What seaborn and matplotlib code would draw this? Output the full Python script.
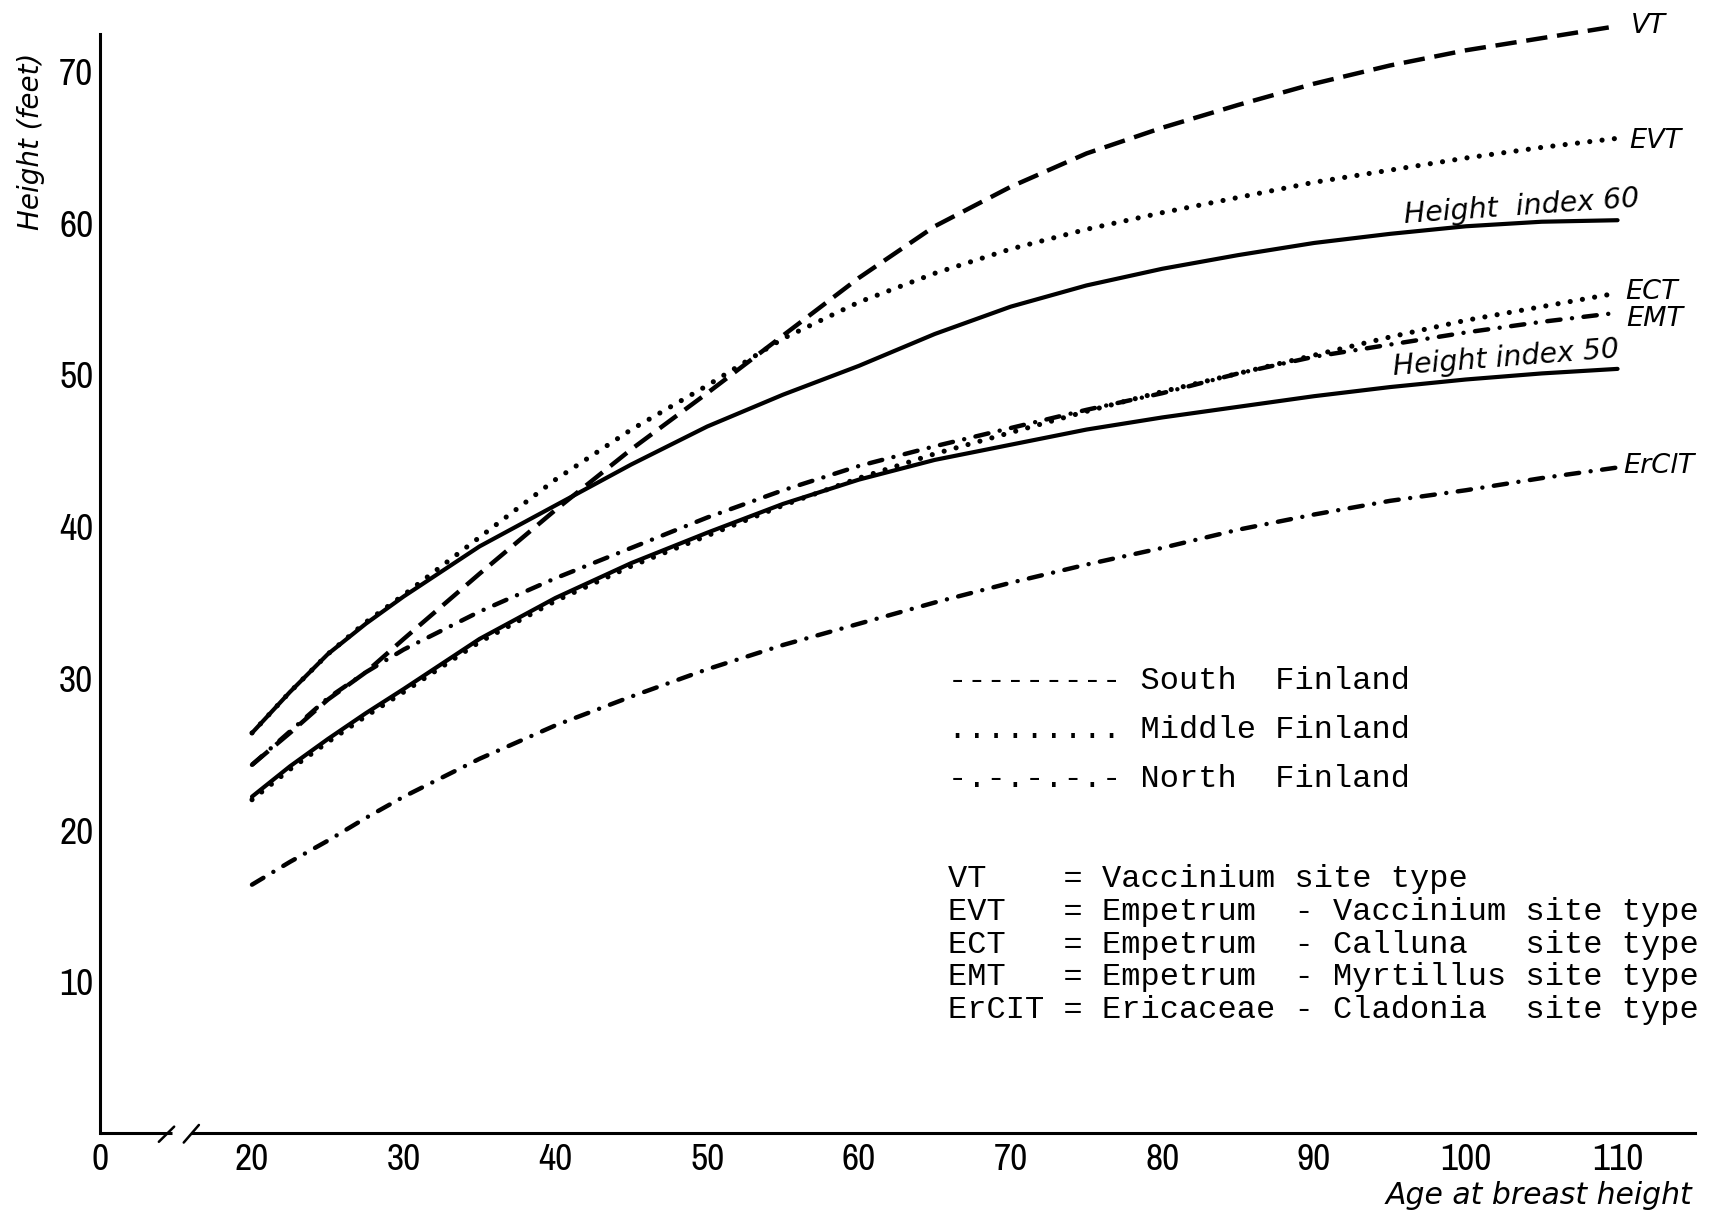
import matplotlib
matplotlib.use("Agg")
import matplotlib.pyplot as plt
from matplotlib import font_manager as fm
import seaborn as sns
import pandas as pd

# ---------------- data ----------------
ages = [20, 22.5, 25, 27.5, 30, 35, 40, 45, 50, 55, 60, 65, 70, 75, 80, 85, 90, 95, 100, 105, 110]
vt    = [24.3, 26.4, 28.6, 30.4, 32.6, 36.9, 41.1, 45.1, 48.8, 52.6, 56.4, 59.8, 62.4, 64.6, 66.3, 67.8, 69.2, 70.4, 71.4, 72.2, 73.0]
evt   = [26.4, 29.1, 31.6, 33.7, 35.5, 39.3, 43.1, 46.4, 49.3, 52.4, 54.8, 56.7, 58.3, 59.6, 60.7, 61.7, 62.7, 63.5, 64.3, 65.0, 65.6]
hi60  = [26.4, 29.1, 31.6, 33.6, 35.4, 38.7, 41.4, 44.1, 46.6, 48.7, 50.6, 52.7, 54.5, 55.9, 57.0, 57.9, 58.7, 59.3, 59.8, 60.1, 60.2]
ect   = [22.0, 24.0, 25.8, 27.5, 29.1, 32.4, 35.1, 37.4, 39.4, 41.4, 43.2, 44.8, 46.2, 47.6, 48.9, 50.1, 51.3, 52.5, 53.6, 54.5, 55.4]
emt   = [24.3, 26.5, 28.7, 30.4, 31.9, 34.4, 36.6, 38.6, 40.6, 42.4, 44.0, 45.3, 46.5, 47.7, 48.8, 50.1, 51.2, 52.0, 52.8, 53.5, 54.1]
hi50  = [22.2, 24.2, 26.0, 27.7, 29.3, 32.6, 35.3, 37.6, 39.6, 41.5, 43.1, 44.4, 45.4, 46.4, 47.2, 47.9, 48.6, 49.2, 49.7, 50.1, 50.4]
ercit = [16.4, 17.9, 19.3, 20.8, 22.2, 24.7, 26.9, 28.8, 30.6, 32.2, 33.6, 35.0, 36.3, 37.5, 38.6, 39.8, 40.8, 41.7, 42.4, 43.2, 43.9]

x_ticks = [10, 20, 30, 40, 50, 60, 70, 80, 90, 100, 110]
x_tick_labels = ["0", "20", "30", "40", "50", "60", "70", "80", "90", "100", "110"]
y_ticks = [10, 20, 30, 40, 50, 60, 70]

legend_lines = ["--------- South  Finland",
                "......... Middle Finland",
                "-.-.-.-.- North  Finland"]
site_lines = ["VT    = Vaccinium site type",
              "EVT   = Empetrum  - Vaccinium site type",
              "ECT   = Empetrum  - Calluna   site type",
              "EMT   = Empetrum  - Myrtillus site type",
              "ErCIT = Ericaceae - Cladonia  site type"]

# ---------------- styling ----------------
sns.set_style("white")
plt.rcParams["font.family"] = ["DejaVu Sans"]
for key in ["text.color", "axes.labelcolor", "xtick.color", "ytick.color", "axes.edgecolor"]:
    plt.rcParams[key] = "black"

# look for a narrow/condensed sans font for tick labels
tick_fp = None
cands = []
for f in fm.fontManager.ttflist:
    fn = f.fname.lower()
    if any(w in fn for w in ["bold", "italic", "oblique", "mono", "serif"]):
        continue
    if "narrow" in fn:
        cands.append((0, f.fname))
    elif "condensed" in fn and "sans" in fn:
        cands.append((1, f.fname))
cands.sort()
if cands:
    rank, path = cands[0]
    size = 27 if rank == 0 else 25
    tick_fp = fm.FontProperties(fname=path, size=size)
else:
    tick_fp = fm.FontProperties(family="DejaVu Sans", size=23)

LW = 3.0
dash_style = (0, (4.8, 2.2))
dot_style = (0, (0.01, 2.4))
dashdot_style = (0, (3.0, 2.6, 0.01, 2.6))

fig = plt.figure(figsize=(17.17, 12.12), dpi=100)
ax = fig.add_axes([0.0584, 0.0648, 0.9367, 0.9325])

df = pd.DataFrame({"age": ages, "VT": vt, "EVT": evt, "HI60": hi60,
                   "ECT": ect, "EMT": emt, "HI50": hi50, "ErCIT": ercit})

series_styles = [
    ("HI60", "-", LW, "butt"),
    ("HI50", "-", LW, "butt"),
    ("VT", dash_style, 3.2, "butt"),
    ("EVT", dot_style, 3.7, "round"),
    ("ECT", dot_style, 3.7, "round"),
    ("EMT", dashdot_style, 3.2, "round"),
    ("ErCIT", dashdot_style, 3.2, "round"),
]
for col, ls, lw, cap in series_styles:
    sns.lineplot(data=df, x="age", y=col, ax=ax, color="black", linewidth=lw,
                 linestyle=ls, dash_capstyle=cap, solid_capstyle="round",
                 solid_joinstyle="round", estimator=None, clip_on=False)

ax.set_xlim(10, 116)
ax.set_ylim(0, 74.5)
ax.set_xlabel("")
ax.set_ylabel("")

# axes / spines
for s in ["top", "right"]:
    ax.spines[s].set_visible(False)
ax.spines["left"].set_linewidth(2.2)
ax.spines["bottom"].set_linewidth(2.2)
ax.spines["left"].set_bounds(0, 72.5)
ax.spines["bottom"].set_bounds(16.1, 115.1)
# short piece of the broken x axis and break marks
ax.plot([10, 14.75], [0, 0], color="black", lw=2.2, clip_on=False, solid_capstyle="butt")
ax.plot([13.86, 14.87], [-0.55, 0.45], color="black", lw=1.8, clip_on=False)
ax.plot([15.5, 16.5], [-0.6, 0.56], color="black", lw=1.8, clip_on=False)

ax.set_xticks(x_ticks)
ax.set_xticklabels(x_tick_labels)
ax.set_yticks(y_ticks)
ax.set_yticklabels([str(v) for v in y_ticks])
ax.tick_params(direction="in", length=8.6, width=2.2, colors="black")
ax.tick_params(axis="x", pad=7)
ax.tick_params(axis="y", pad=5)
for lab in ax.get_xticklabels() + ax.get_yticklabels():
    lab.set_fontproperties(tick_fp)

# curve end labels
lab_kw = dict(fontsize=19.5, style="italic", va="center", ha="left", color="black")
ax.text(ages[-1] + 0.9, vt[-1], "VT", **lab_kw)
ax.text(ages[-1] + 0.8, evt[-1] - 0.2, "EVT", **lab_kw)
ax.text(ages[-1] + 0.5, ect[-1] + 0.1, "ECT", **lab_kw)
ax.text(ages[-1] + 0.6, emt[-1] - 0.4, "EMT", **lab_kw)
ax.text(ages[-1] + 0.4, ercit[-1] + 0.1, "ErClT", **lab_kw)
ax.text(103.7, hi60[-2] + 0.45, "Height  index 60", fontsize=20.5, style="italic",
        ha="center", va="baseline", rotation=4, rotation_mode="anchor", color="black")
ax.text(102.7, hi50[-2] + 0.45, "Height index 50", fontsize=20.5, style="italic",
        ha="center", va="baseline", rotation=4.5, rotation_mode="anchor", color="black")

# legend-like typed text
mono = ["Liberation Mono", "DejaVu Sans Mono"]
for i, line in enumerate(legend_lines):
    ax.text(65.9, 29.8 - 3.22 * i, line, family=mono, fontsize=23,
            va="center", ha="left", color="black")
for i, line in enumerate(site_lines):
    ax.text(65.9, 16.75 - 2.15 * i, line, family=mono, fontsize=23,
            va="center", ha="left", color="black")

# axis titles
fig.text(0.0179, 0.8837, "Height (feet)", rotation=90, style="italic",
         fontsize=20, ha="center", va="center", color="black")
fig.text(0.9855, 0.0135, "Age at breast height", style="italic",
         fontsize=21.5, ha="right", va="center", color="black")

fig.savefig("out.png", dpi=100)
